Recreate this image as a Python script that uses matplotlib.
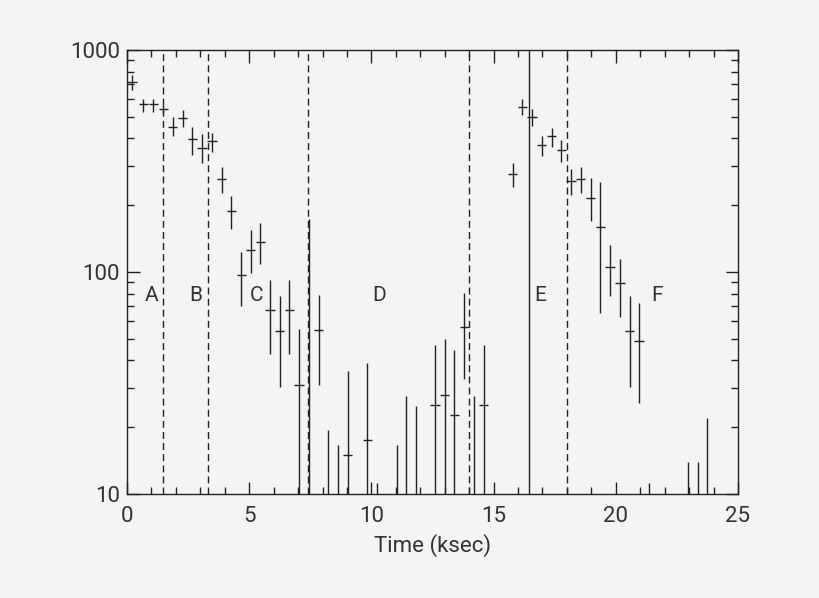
import numpy as np
import matplotlib
matplotlib.use("Agg")
import matplotlib.pyplot as plt
from matplotlib.ticker import MultipleLocator, LogLocator, NullFormatter, FixedLocator

# light curve bins (ksec) and count rates with 1-sigma bounds
time = [0.20, 0.67, 1.08, 1.49, 1.87, 2.28, 2.67, 3.07, 3.48, 3.87,
        4.27, 4.68, 5.06, 5.46, 5.85, 6.25, 6.64, 7.04, 7.43, 7.84,
        8.24, 8.63, 9.03, 9.83, 10.23, 11.03, 11.43, 11.82, 12.60, 13.00,
        13.39, 13.80, 14.20, 14.60, 15.78, 16.18, 16.57, 16.96, 17.37, 17.77,
        18.17, 18.56, 18.97, 19.37, 19.76, 20.17, 20.57, 20.95, 21.35, 22.97,
        23.35, 23.74]
rate = [718, 571, 571, 541, 452, 492, 396, 363, 389, 262,
        188, 96.6, 126, 137, 67.5, 54.2, 67.5, 30.9, 8, 54.8,
        4, 4, 15.0, 17.5, 3, 4, 5, 5, 25.2, 27.8,
        22.7, 56.8, 5, 25.2, 276, 556, 501, 373, 408, 355,
        258, 262, 216, 160, 105, 89, 54.2, 48.9, 3, 4,
        4, 5]
rate_lo = [661, 526, 526, 520, 410, 452, 337, 309, 348, 228,
           157, 70.3, 98.6, 109, 42.8, 30.4, 42.8, 1, 1, 30.9,
           1, 1, 1, 1, 1, 1, 1, 1, 1, 1,
           1, 32.9, 1, 1, 242, 509, 456, 334, 365, 314,
           222, 228, 169, 65.6, 78, 63, 30.4, 25.6, 1, 1,
           1, 1]
rate_hi = [771, 601, 601, 565, 498, 537, 452, 417, 424, 298,
           220, 123, 154, 166, 92, 78, 92, 55.2, 173, 78.8,
           19.4, 16.7, 35.9, 38.8, 11.2, 16.7, 27.7, 25, 46.9, 49.9,
           44.6, 80.7, 27.7, 46.9, 310, 600, 542, 410, 447, 394,
           291, 298, 264, 254, 132, 115, 78, 72.8, 11.2, 14,
           14, 22.1]
bin_half = 0.19

# interval boundaries and labels
bounds_dashed = [1.49, 3.33, 7.40, 14.0, 18.0]
bounds_solid = [16.43]
seg_labels = ["A", "B", "C", "D", "E", "F"]
seg_label_x = [1.0, 2.8, 5.3, 10.3, 16.9, 21.7]
seg_label_y = 78

bg = "#f4f4f4"
fg = "#222222"
txt = "#333333"

plt.rcParams['font.family'] = ['Roboto', 'DejaVu Sans']

fig = plt.figure(figsize=(8.2, 5.98), dpi=100, facecolor=bg)
ax = fig.add_axes([127/820, 1-494/598, (738-127)/820, (494-50)/598])
ax.set_facecolor(bg)

t = np.array(time)
r = np.array(rate)
yerr = [r - np.array(rate_lo), np.array(rate_hi) - r]
ax.errorbar(t, r, yerr=yerr, xerr=bin_half, fmt='none', ecolor=fg, elinewidth=1.0, capsize=0)

for x in bounds_dashed:
    ax.axvline(x, color=fg, lw=1.0, ls=(0, (5, 3)))
for x in bounds_solid:
    ax.axvline(x, color=fg, lw=1.0)

for lab, x in zip(seg_labels, seg_label_x):
    ax.text(x, seg_label_y, lab, fontsize=15, color=txt, ha='center', va='center')

ax.set_yscale('log')
ax.set_xlim(0, 25)
ax.set_ylim(10, 1000)
ax.xaxis.set_major_locator(MultipleLocator(5))
ax.xaxis.set_minor_locator(MultipleLocator(1))
ax.yaxis.set_major_locator(FixedLocator([10, 100, 1000]))
ax.yaxis.set_major_formatter(matplotlib.ticker.FuncFormatter(lambda v, p: "%d" % v))
ax.yaxis.set_minor_locator(LogLocator(base=10, subs=np.arange(2, 10)))
ax.yaxis.set_minor_formatter(NullFormatter())

ax.tick_params(which='both', direction='in', top=True, right=True, colors=fg,
               labelcolor=txt, labelsize=16)
ax.tick_params(which='major', length=9, width=1)
ax.tick_params(which='minor', length=5, width=1)
ax.tick_params(axis='x', which='major', pad=9)
ax.tick_params(axis='y', which='major', pad=5)
for s in ax.spines.values():
    s.set_color(fg)
    s.set_linewidth(1.0)

ax.set_xlabel("Time (ksec)", fontsize=16, color=txt, labelpad=5)

plt.savefig("out.png", dpi=100, facecolor=bg)
